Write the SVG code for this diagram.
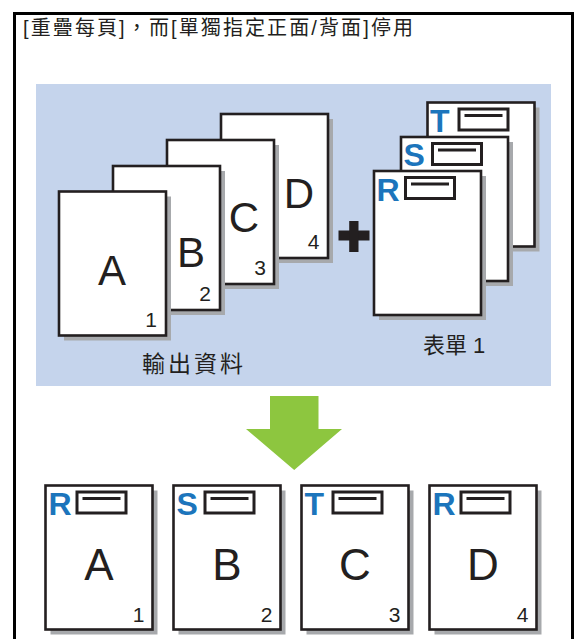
<svg xmlns="http://www.w3.org/2000/svg" width="574" height="639" viewBox="0 0 574 639">
<defs>
<style>
.pg{fill:#fff;stroke:#231F20;stroke-width:2.6}
.sh{fill:#A7A9AC}
.bx{fill:#fff;stroke:#231F20;stroke-width:3}
.ln{stroke:#231F20;stroke-width:3}
.big{font-family:"Liberation Sans",Arial,sans-serif;font-size:42px;fill:#231F20;text-anchor:middle}
.big2{font-family:"Liberation Sans",Arial,sans-serif;font-size:44px;fill:#231F20;text-anchor:middle}
.num{font-family:"Liberation Sans",Arial,sans-serif;font-size:21px;fill:#231F20;text-anchor:middle}
.tag{font-family:"Liberation Sans",Arial,sans-serif;font-weight:bold;font-size:32px;fill:#1C75BC}
.cjk{font-family:"Liberation Sans","Noto Sans CJK TC",sans-serif;fill:#231F20}
</style>
<g id="sheet">
<rect class="sh" x="5" y="5" width="107" height="144"/>
<rect class="pg" x="0" y="0" width="107" height="144"/>
</g>
<g id="hdr">
<rect class="bx" x="31.5" y="6.5" width="49" height="21"/>
<line class="ln" x1="37" y1="13" x2="75" y2="13"/>
</g>
</defs>

<rect id="frame" x="14.5" y="13.5" width="558" height="640" fill="#fff" stroke="#000" stroke-width="3"/>
<text id="title" class="cjk" x="23" y="35" font-size="20" textLength="390" lengthAdjust="spacing">[重疊每頁]，而[單獨指定正面/背面]停用</text>

<rect id="panel" x="36" y="84" width="515" height="302" fill="#C5D4EC"/>

<g id="page-D" transform="translate(221,114)">
<use href="#sheet"/>
<text class="big" x="78" y="94">D</text>
<text class="num" x="92.5" y="134.5">4</text>
</g>
<g id="page-C" transform="translate(167,140)">
<use href="#sheet"/>
<text class="big" x="77" y="91.5">C</text>
<text class="num" x="93" y="135">3</text>
</g>
<g id="page-B" transform="translate(113,166)">
<use href="#sheet"/>
<text class="big" x="78" y="101">B</text>
<text class="num" x="92" y="134.5">2</text>
</g>
<g id="page-A" transform="translate(59,191.5)">
<use href="#sheet"/>
<text class="big" x="53" y="93.5">A</text>
<text class="num" x="92" y="135.5">1</text>
</g>
<text id="label-output" class="cjk" x="142" y="372" font-size="23" textLength="101" lengthAdjust="spacing">輸出資料</text>

<g id="plus" fill="#231F20">
<rect x="338.5" y="230.5" width="31" height="10"/>
<rect x="349.2" y="221" width="9.3" height="31"/>
</g>

<g id="form-T" transform="translate(427.5,102.5)">
<use href="#sheet"/>
<text class="tag" x="2.5" y="29">T</text>
<use href="#hdr"/>
</g>
<g id="form-S" transform="translate(401,137)">
<use href="#sheet"/>
<text class="tag" x="2.5" y="29">S</text>
<use href="#hdr"/>
</g>
<g id="form-R" transform="translate(374,171)">
<use href="#sheet"/>
<text class="tag" x="2.5" y="30">R</text>
<use href="#hdr"/>
</g>
<text id="label-form" class="cjk" x="423" y="352.5" font-size="22">表單 1</text>

<g id="connectors">
<polygon fill="#8DC63F" points="270,396 318.5,396 318.5,429 342,429 294.2,470 246,429 270,429"/>
</g>

<g id="out-1" transform="translate(45.5,485.5)">
<use href="#sheet"/>
<text class="tag" x="3" y="29.5">R</text>
<use href="#hdr"/>
<text class="big2" x="53.5" y="94.5">A</text>
<text class="num" x="93" y="136.2">1</text>
</g>
<g id="out-2" transform="translate(173.5,485.5)">
<use href="#sheet"/>
<text class="tag" x="3" y="29.5">S</text>
<use href="#hdr"/>
<text class="big2" x="53.5" y="94.5">B</text>
<text class="num" x="93" y="136.2">2</text>
</g>
<g id="out-3" transform="translate(301.5,485.5)">
<use href="#sheet"/>
<text class="tag" x="3" y="29.5">T</text>
<use href="#hdr"/>
<text class="big2" x="53.5" y="94.5">C</text>
<text class="num" x="93" y="136.2">3</text>
</g>
<g id="out-4" transform="translate(429.5,485.5)">
<use href="#sheet"/>
<text class="tag" x="3" y="29.5">R</text>
<use href="#hdr"/>
<text class="big2" x="53.5" y="94.5">D</text>
<text class="num" x="93" y="136.2">4</text>
</g>
</svg>
